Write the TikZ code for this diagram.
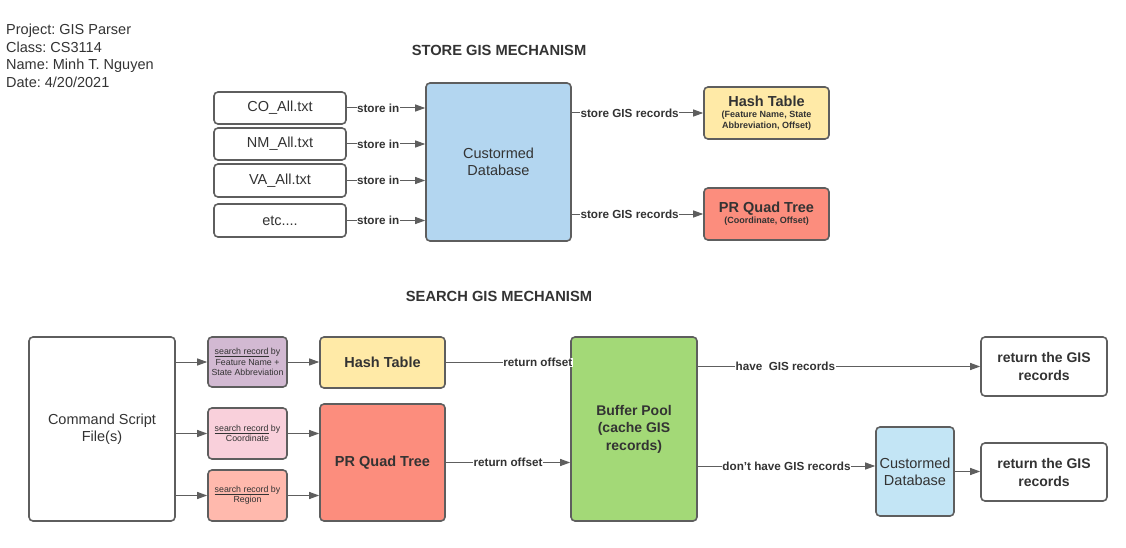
\documentclass[tikz,border=0pt]{standalone}
\usepackage{fontspec}
\setmainfont{Liberation Sans}
\usepackage{xcolor}
\usetikzlibrary{arrows.meta}
\frenchspacing

\definecolor{linegray}{HTML}{5E5E5E}
\definecolor{txtgray}{HTML}{333333}
\definecolor{dbblue}{HTML}{B3D6F0}
\definecolor{dbblue2}{HTML}{C3E5F5}
\definecolor{htyellow}{HTML}{FFEAA7}
\definecolor{prred}{HTML}{FC8D7D}
\definecolor{bpgreen}{HTML}{A3D977}
\definecolor{spurple}{HTML}{D2B9D2}
\definecolor{spink}{HTML}{F9D0DB}
\definecolor{ssalmon}{HTML}{FFB9AD}

\begin{document}
\begin{tikzpicture}[x=1pt,y=-1pt,
    box/.style={draw=linegray,line width=1.6pt,rounded corners=4pt,inner sep=0pt,align=center,text=txtgray,font=\fontsize{14.5}{17}\selectfont},
    lbl/.style={fill=white,inner sep=0.5pt,text=txtgray,font=\bfseries\fontsize{11.7}{13}\selectfont},
    arr/.style={draw=linegray,line width=1pt,-{Triangle[length=10pt,width=7pt]}}]
                \useasboundingbox (0,0) rectangle (1126,548);

                % header
                \node (info) at (6,24) [anchor=north west,inner sep=0pt,align=left,text=txtgray,font=\fontsize{14.5}{17.6}\selectfont]
                    {Project: GIS Parser\\Class: CS3114\\Name: Minh T. Nguyen\\Date: 4/20/2021};
                \node (storetitle) at (499,50) [text=txtgray,font=\bfseries\fontsize{14.7}{16}\selectfont] {STORE GIS MECHANISM};
                \node (searchtitle) at (499,296) [text=txtgray,font=\bfseries\fontsize{14.7}{16}\selectfont] {SEARCH GIS MECHANISM};

                % store part
                \node (co) at (280,108) [box,minimum width=132pt,minimum height=32pt] {CO\_All.txt};
                \node (nm) at (280,144) [box,minimum width=132pt,minimum height=32pt] {NM\_All.txt};
                \node (va) at (280,180.5) [box,minimum width=132pt,minimum height=33pt] {VA\_All.txt};
                \node (etc) at (280,220.5) [box,minimum width=132pt,minimum height=33pt] {etc....};
                \node (db) at (498.5,162) [box,fill=dbblue,minimum width=145pt,minimum height=158pt] {Custormed\\Database};
                \node (ht) at (766.5,113) [box,fill=htyellow,minimum width=125pt,minimum height=52pt,font=\bfseries\fontsize{9}{11}\selectfont]
                    {\fontsize{14.5}{17}\selectfont Hash Table\\\fontsize{9}{11}\selectfont (Feature Name, State\\Abbreviation, Offset)};
                \node (pr) at (766.5,214) [box,fill=prred,minimum width=125pt,minimum height=52pt,font=\bfseries\fontsize{9}{11}\selectfont]
                    {\fontsize{14.5}{17}\selectfont PR Quad Tree\\\fontsize{9}{11}\selectfont (Coordinate, Offset)};

                \draw[arr] (co.east) -- node[lbl,pos=0.4] {store in} (co.east -| db.west);
                \draw[arr] (nm.east) -- node[lbl,pos=0.4] {store in} (nm.east -| db.west);
                \draw[arr] (va.east) -- node[lbl,pos=0.4] {store in} (va.east -| db.west);
                \draw[arr] (etc.east) -- node[lbl,pos=0.4] {store in} (etc.east -| db.west);
                \draw[arr] (db.east |- ht.west) -- node[lbl,pos=0.44] {store GIS records} (ht.west);
                \draw[arr] (db.east |- pr.west) -- node[lbl,pos=0.44] {store GIS records} (pr.west);

                % search part
                \node (cmd) at (102,429) [box,minimum width=146pt,minimum height=184pt] {Command Script\\File(s)};
                \node (sa) at (247.5,362) [box,fill=spurple,minimum width=79pt,minimum height=50pt,font=\fontsize{8.8}{10.3}\selectfont]
                    {\underline{search record} by\\Feature Name +\\State Abbreviation};
                \node (sb) at (247.5,433.5) [box,fill=spink,minimum width=79pt,minimum height=51pt,font=\fontsize{8.8}{10.3}\selectfont]
                    {\underline{search record} by\\Coordinate};
                \node (sc) at (247.5,495.5) [box,fill=ssalmon,minimum width=79pt,minimum height=51pt,font=\fontsize{8.8}{10.3}\selectfont]
                    {\underline{search record} by\\Region};
                \node (ht2) at (382.5,362.5) [box,fill=htyellow,minimum width=125pt,minimum height=51pt,font=\bfseries\fontsize{14.5}{17}\selectfont] {Hash Table};
                \node (pr2) at (382.5,462.5) [box,fill=prred,minimum width=125pt,minimum height=117pt,font=\bfseries\fontsize{14.5}{17}\selectfont] {PR Quad Tree};
                \node (bp) at (634,429) [box,fill=bpgreen,minimum width=126pt,minimum height=184pt,font=\bfseries\fontsize{14}{17.5}\selectfont]
                    {Buffer Pool\\(cache GIS\\records)};
                \node (ret1) at (1044,366.5) [box,minimum width=126pt,minimum height=59pt,font=\bfseries\fontsize{14}{18}\selectfont] {return the GIS\\records};
                \node (db2) at (915,471.5) [box,fill=dbblue2,minimum width=78pt,minimum height=89pt] {Custormed\\Database};
                \node (ret2) at (1044,472) [box,minimum width=126pt,minimum height=58pt,font=\bfseries\fontsize{14}{18}\selectfont] {return the GIS\\records};
                \coordinate (db2in) at ([yshift=5.5pt]db2.west);

                \draw[arr] (cmd.east |- sa.west) -- (sa.west);
                \draw[arr] (cmd.east |- sb.west) -- (sb.west);
                \draw[arr] (cmd.east |- sc.west) -- (sc.west);
                \draw[arr] (sa.east) -- (sa.east -| ht2.west);
                \draw[arr] (sb.east) -- (sb.east -| pr2.west);
                \draw[arr] (sc.east) -- (sc.east -| pr2.west);
                \draw[arr] (ht2.east) -- node[lbl,pos=0.74] {return offset} (ht2.east -| bp.west);
                \draw[arr] (pr2.east) -- node[lbl,pos=0.5] {return offset} (pr2.east -| bp.west);
                \draw[arr] (bp.east |- ret1.west) -- node[lbl,pos=0.31] {have\ \ GIS records} (ret1.west);
                \draw[arr] (bp.east |- db2in) -- node[lbl,pos=0.5] {don't have GIS records} (db2in);
                \draw[arr] (db2.east) -- (db2.east -| ret2.west);

            \end{tikzpicture}
\end{document}
